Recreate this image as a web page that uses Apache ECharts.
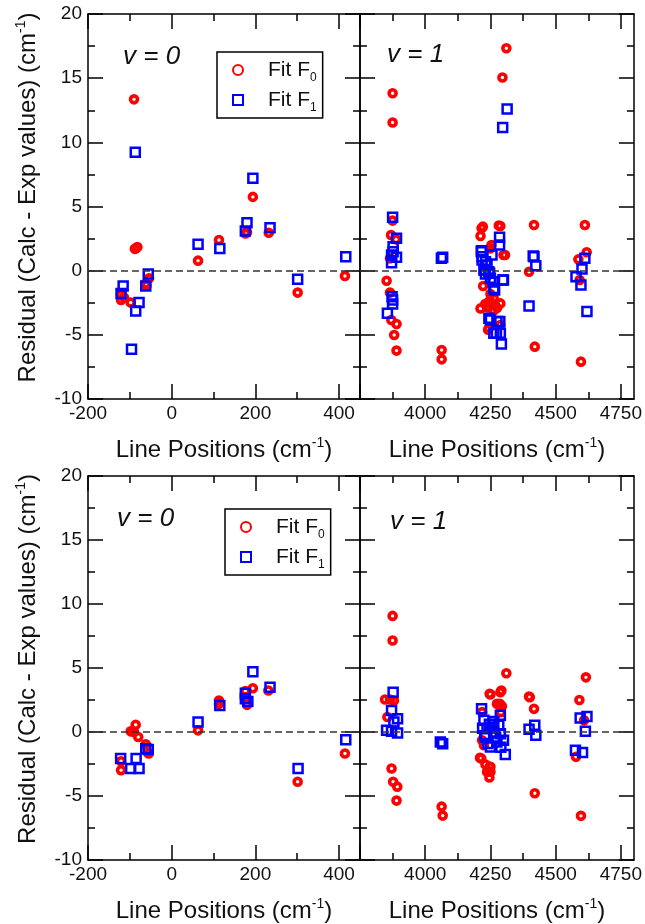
<!DOCTYPE html>
<html><head><meta charset="utf-8">
<script src="https://cdn.jsdelivr.net/npm/echarts@6/dist/echarts.min.js"></script>
<style>html,body{margin:0;padding:0;background:#fff}#c{width:645px;height:924px}</style>
</head><body><div id="c"></div>
<script>
// ---------- tick values ----------
const xLeftMajor = [-200, 0, 200, 400];
const xLeftMinor = [-100, 100, 300];
const xLeftLabels = [-200, 0, 200, 400];
const xRightMajor = [3750, 4000, 4250, 4500, 4750];
const xRightMinor = [3875, 4125, 4375, 4625];
const xRightLabels = [4000, 4250, 4500, 4750];
const xLeftRange = [-200, 450];
const xRightRange = [3750, 4800];
const yRange = [-10, 20];
const yStep = 5;
const seriesNames = ['Fit F0', 'Fit F1'];
const panelTitles = ['v = 0', 'v = 1', 'v = 0', 'v = 1'];

// ---------- data: [line position, residual] ----------
const v0TopF0 = [[-90,13.35],[194,5.75],[176,2.9],[180,3.0],[232,2.96],[113,2.39],[63,0.78],[-88,1.7],[-82,1.85],[-85,1.75],[-54,-0.6],[-62,-1.0],[-60,-1.15],[-121,-1.9],[-121,-2.28],[-114,-2.1],[-98,-2.49],[301,-1.71],[414,-0.41]];
const v0TopF1 = [[-87,9.23],[194,7.2],[180,3.74],[176,3.09],[235,3.35],[115,1.72],[63,2.05],[-56,-0.26],[-62,-1.19],[-116,-1.19],[-121,-1.77],[-78,-2.49],[-86,-3.14],[-96,-6.13],[301,-0.67],[416,1.09]];
const v1TopF0 = [[4311,17.33],[4296,15.05],[3875,13.83],[3875,11.54],[3875,3.9],[3869,2.78],[3888,2.44],[3865,0.96],[3852,-0.78],[3865,-1.71],[3870,-3.84],[3890,-4.16],[3881,-5.01],[3890,-6.23],[4063,-6.18],[4063,-6.91],[4216,3.30],[4221,3.43],[4212,2.70],[4282,3.51],[4288,3.48],[4254,2.0],[4250,1.74],[4300,1.22],[4306,1.22],[4222,-1.19],[4250,-1.82],[4263,-2.16],[4212,-2.94],[4237,-2.86],[4268,-2.68],[4288,-2.55],[4230,-2.6],[4255,-2.5],[4275,-2.9],[4262,-3.1],[4245,-2.4],[4244,-4.49],[4241,-4.6],[4288,-4.23],[4417,3.56],[4398,-0.08],[4420,-5.92],[4612,3.56],[4619,1.43],[4587,0.88],[4592,-0.73],[4597,-7.09]];
const v1TopF1 = [[4314,12.6],[4297,11.15],[3875,4.16],[3890,2.52],[3877,1.87],[3877,1.48],[3871,1.22],[3890,1.04],[3871,0.62],[3873,-2.03],[3875,-2.29],[3875,-2.6],[3855,-3.32],[4067,1.04],[4062,0.96],[4285,2.60],[4285,2.0],[4216,1.56],[4215,1.48],[4218,1.09],[4218,0.83],[4256,1.22],[4231,0.70],[4237,0.44],[4225,0.05],[4228,0.05],[4244,-0.08],[4247,-0.2],[4231,-0.26],[4250,-0.6],[4263,-0.86],[4260,-0.86],[4300,-0.73],[4298,-0.73],[4263,-1.38],[4266,-1.5],[4244,-3.71],[4250,-3.84],[4275,-3.97],[4286,-3.97],[4263,-4.88],[4273,-4.88],[4288,-4.88],[4292,-5.71],[4417,1.09],[4414,1.15],[4424,0.39],[4398,-2.75],[4612,0.96],[4601,0.13],[4578,-0.47],[4597,-1.12],[4620,-3.19]];
const v0BotF0 = [[231,3.24],[194,3.42],[176,2.72],[180,2.12],[176,3.2],[113,2.46],[113,2.2],[63,0.13],[-86,0.57],[-98,0.05],[-90,0.0],[-80,-0.39],[-62,-0.96],[-55,-1.68],[-121,-2.28],[-121,-2.98],[414,-1.68],[301,-3.89]];
const v0BotF1 = [[194,4.71],[235,3.5],[176,3.03],[176,2.59],[182,2.38],[115,2.07],[63,0.78],[-56,-1.37],[-62,-1.30],[-122,-2.07],[-85,-2.07],[-98,-2.85],[-78,-2.85],[416,-0.6],[302,-2.85]];
const v1BotF0 = [[3875,9.07],[3875,7.15],[4311,4.59],[4616,4.27],[4250,2.93],[4247,2.98],[4288,3.1],[4292,3.24],[4398,2.77],[4401,2.72],[4591,2.5],[3846,2.54],[3865,2.54],[3880,2.46],[3855,1.17],[3871,-2.85],[3877,-3.89],[3893,-4.27],[3890,-5.36],[4063,-5.83],[4067,-6.53],[4275,2.2],[4286,2.2],[4294,2.02],[4290,1.55],[4218,1.55],[4218,-0.65],[4225,-1.04],[4210,-2.02],[4215,-2.07],[4231,-2.54],[4250,-2.72],[4247,-2.72],[4237,-3.11],[4250,-3.11],[4246,-3.55],[4417,1.81],[4420,-4.79],[4609,0.91],[4578,-1.94],[4597,-6.55]];
const v1BotF1 = [[3877,3.11],[3871,1.68],[3894,1.04],[3880,0.78],[3852,0.13],[3894,-0.08],[3871,0.05],[4067,-0.91],[4058,-0.78],[4216,1.81],[4288,1.30],[4225,0.91],[4263,0.83],[4282,0.52],[4237,0.26],[4263,0],[4231,-0.39],[4288,-0.13],[4275,-0.78],[4250,-1.17],[4300,-0.65],[4307,-1.76],[4240,-0.9],[4228,-0.3],[4256,0.4],[4270,-0.4],[4246,0.6],[4290,-1.2],[4220,0.3],[4420,0.52],[4398,0.21],[4424,-0.26],[4620,1.22],[4594,1.09],[4614,0.05],[4576,-1.42],[4603,-1.61]];

// ---------- layout / styles ----------
const FONT = 'Liberation Sans';
const INK = '#111';
const lineSt = { color: '#000', width: 1.5 };
const grids = [
  { left: 88, top: 14, width: 272, height: 385 },
  { left: 360, top: 14, width: 274, height: 385 },
  { left: 88, top: 476, width: 272, height: 386 },
  { left: 360, top: 476, width: 274, height: 386 }
];
const panelX = [
  [xLeftRange, xLeftMajor, xLeftMinor, xLeftLabels],
  [xRightRange, xRightMajor, xRightMinor, xRightLabels],
  [xLeftRange, xLeftMajor, xLeftMinor, xLeftLabels],
  [xRightRange, xRightMajor, xRightMinor, xRightLabels]
];
const panelData = [[v0TopF0, v0TopF1], [v1TopF0, v1TopF1], [v0BotF0, v0BotF1], [v1BotF0, v1BotF1]];
const titlePos = [[123, 44], [387, 42], [117, 506], [390, 509]];
const legendPos = [[217, 52], [225, 509]];

const nameRich = {
  n: { fontSize: 24, fontFamily: FONT, color: INK, lineHeight: 28 },
  s: { fontSize: 14, fontFamily: FONT, color: INK, lineHeight: 14, verticalAlign: 'top' }
};
const plainNum = v => String(v);

const xAxes = [], yAxes = [], series = [];
grids.forEach((g, gi) => {
  const [rng, major, minor, labels] = panelX[gi];
  const base = { gridIndex: gi, type: 'value', min: rng[0], max: rng[1], splitLine: { show: false } };
  const mainX = xAxes.length;
  xAxes.push(Object.assign({}, base, {
    position: 'bottom',
    axisLine: { show: true, onZero: false, lineStyle: lineSt },
    axisTick: { show: true, inside: true, length: 15, customValues: major, lineStyle: lineSt },
    axisLabel: { show: true, customValues: labels, formatter: plainNum, margin: 5, fontSize: 19, fontFamily: FONT, color: INK },
    name: '{n|Line Positions (cm}{s|-1}{n|)}',
    nameLocation: 'middle', nameGap: 37,
    nameTextStyle: { rich: nameRich }
  }));
  xAxes.push(Object.assign({}, base, {
    position: 'bottom',
    axisLine: { show: false, onZero: false },
    axisTick: { show: true, inside: true, length: 7, customValues: minor, lineStyle: lineSt },
    axisLabel: { show: false }
  }));
  xAxes.push(Object.assign({}, base, {
    position: 'top',
    axisLine: { show: true, onZero: false, lineStyle: lineSt },
    axisTick: { show: true, inside: true, length: 15, customValues: major, lineStyle: lineSt },
    axisLabel: { show: false }
  }));
  xAxes.push(Object.assign({}, base, {
    position: 'top',
    axisLine: { show: false, onZero: false },
    axisTick: { show: true, inside: true, length: 7, customValues: minor, lineStyle: lineSt },
    axisLabel: { show: false }
  }));
  const isLeft = gi % 2 === 0;
  const ybase = { gridIndex: gi, type: 'value', min: yRange[0], max: yRange[1], interval: yStep,
    splitLine: { show: false }, minorSplitLine: { show: false },
    axisLine: { show: true, onZero: false, lineStyle: lineSt },
    axisTick: { show: true, inside: true, length: 15, lineStyle: lineSt },
    minorTick: { show: true, splitNumber: 2, length: 7, lineStyle: lineSt } };
  const mainY = yAxes.length;
  yAxes.push(Object.assign({}, ybase, {
    position: 'left',
    axisLabel: { show: isLeft, formatter: plainNum, margin: 6, fontSize: 19, fontFamily: FONT, color: INK },
    name: isLeft ? '{n|Residual (Calc - Exp values) (cm}{s|-1}{n|)}' : '',
    nameLocation: 'middle', nameGap: 46,
    nameTextStyle: { rich: nameRich, padding: [0, 0, 0, 18] }
  }));
  yAxes.push(Object.assign({}, ybase, { position: 'right', axisLabel: { show: false } }));

  const [d0, d1] = panelData[gi];
  series.push({
    name: seriesNames[0], type: 'scatter', xAxisIndex: mainX, yAxisIndex: mainY,
    symbol: 'circle', symbolSize: 7, data: d0,
    itemStyle: { color: 'rgba(0,0,0,0)', borderColor: '#ff0000', borderWidth: 3.6, opacity: 1 },
    markLine: { silent: true, symbol: 'none', animation: false, label: { show: false },
      lineStyle: { type: [7, 4], color: '#333', width: 1.5 }, data: [{ yAxis: 0 }] },
    z: 3
  });
  series.push({
    name: seriesNames[1], type: 'scatter', xAxisIndex: mainX, yAxisIndex: mainY,
    symbol: 'rect', symbolSize: 9, data: d1,
    itemStyle: { color: 'rgba(0,0,0,0)', borderColor: '#0000ff', borderWidth: 2.5, opacity: 1 },
    z: 4
  });
});

const titles = panelTitles.map((t, i) => ({
  text: t, left: titlePos[i][0], top: titlePos[i][1], padding: 0,
  textStyle: { fontSize: 26, fontStyle: 'italic', fontWeight: 'normal', fontFamily: FONT, color: INK }
}));

const legends = legendPos.map(p => ({
  orient: 'vertical', left: p[0], top: p[1],
  padding: [4, 6, 4, 15], itemGap: 2, itemWidth: 10, itemHeight: 10,
  borderColor: '#000', borderWidth: 1.5, backgroundColor: '#fff',
  data: seriesNames,
  formatter: n => n.replace(/F(\d)$/, 'F{sub|$1}'),
  textStyle: { fontSize: 21, fontFamily: FONT, color: INK, lineHeight: 28, padding: [0, 0, 0, 20],
    rich: { sub: { fontSize: 12, fontFamily: FONT, color: INK, lineHeight: 12, verticalAlign: 'bottom' } } }
}));

const chart = echarts.init(document.getElementById('c'), null, { renderer: 'canvas' });
chart.setOption({
  animation: false,
  backgroundColor: '#fff',
  title: titles,
  legend: legends,
  grid: grids,
  xAxis: xAxes,
  yAxis: yAxes,
  series: series
});
</script>
</body></html>
